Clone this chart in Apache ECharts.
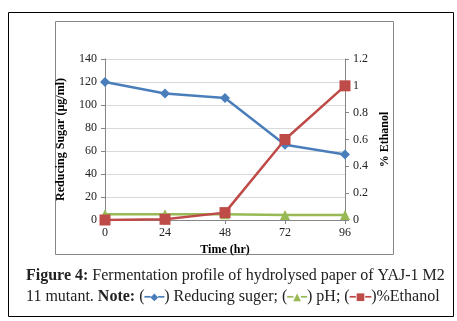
<!DOCTYPE html>
<html>
<head>
<meta charset="utf-8">
<script src="https://cdn.jsdelivr.net/npm/echarts@6/dist/echarts.min.js"></script>
<style>
  html, body { margin: 0; padding: 0; background: #fff; }
  #chart { width: 457px; height: 321px; }
</style>
</head>
<body>
<div id="chart"></div>
<script>
// time points (hr)
const hours = ['0', '24', '48', '72', '96'];
// reducing sugar (µg/ml), left axis
const sugar = [120, 110, 106, 65.5, 57];
// pH, left axis
const ph = [5.0, 5.0, 4.9, 4.4, 4.4];
// % ethanol, right axis
const ethanol = [0, 0.005, 0.055, 0.6, 1.0];

const serif = '"Liberation Serif", "DejaVu Serif", serif';
const blue = '#4a7ebb';
const green = '#98b954';
const red = '#be4b48';

let myChart = echarts.init(document.getElementById('chart'));

myChart.setOption({
  animation: false,
  textStyle: { fontFamily: serif },
  grid: { left: 105, right: 112, top: 59, bottom: 101 },
  xAxis: {
    type: 'category',
    data: hours,
    boundaryGap: false,
    name: 'Time (hr)',
    nameLocation: 'middle',
    nameGap: 20,
    nameTextStyle: { fontFamily: serif, fontWeight: 'bold', fontSize: 12, color: '#000' },
    axisLine: { lineStyle: { color: '#868686', width: 1 } },
    axisTick: { show: true, length: 4, lineStyle: { color: '#868686' } },
    axisLabel: { fontFamily: serif, fontSize: 12, color: '#222', margin: 7 },
    splitLine: { show: false }
  },
  yAxis: [
    {
      type: 'value',
      min: 0,
      max: 140,
      interval: 20,
      name: 'Reducing Sugar (µg/ml)',
      nameLocation: 'middle',
      nameRotate: 90,
      nameGap: 38,
      nameTextStyle: { fontFamily: serif, fontWeight: 'bold', fontSize: 12, color: '#000' },
      axisLine: { show: true, lineStyle: { color: '#868686', width: 1 } },
      axisTick: { show: true, length: 4, lineStyle: { color: '#868686' } },
      axisLabel: { fontFamily: serif, fontSize: 12, color: '#222', margin: 8 },
      splitLine: { lineStyle: { color: '#d9d9d9', width: 1 } }
    },
    {
      type: 'value',
      min: 0,
      max: 1.2,
      interval: 0.2,
      position: 'right',
      name: '% Ethanol',
      nameLocation: 'middle',
      nameRotate: 90,
      nameGap: 30,
      nameTextStyle: { fontFamily: serif, fontWeight: 'bold', fontSize: 12, color: '#000' },
      axisLine: { show: true, lineStyle: { color: '#868686', width: 1 } },
      axisTick: { show: true, length: 4, lineStyle: { color: '#868686' } },
      axisLabel: {
        fontFamily: serif, fontSize: 12, color: '#222', margin: 8,
        formatter: function (v) { return String(Math.round(v * 10) / 10); }
      },
      splitLine: { show: false }
    }
  ],
  series: [
    {
      name: 'Reducing suger',
      type: 'line',
      data: sugar,
      symbol: 'diamond',
      symbolSize: 10,
      lineStyle: { color: blue, width: 2.5 },
      itemStyle: { color: blue },
      z: 3
    },
    {
      name: 'pH',
      type: 'line',
      data: ph,
      symbol: 'triangle',
      symbolSize: 10,
      lineStyle: { color: green, width: 2.5 },
      itemStyle: { color: green },
      z: 2
    },
    {
      name: '%Ethanol',
      type: 'line',
      yAxisIndex: 1,
      data: ethanol,
      symbol: 'rect',
      symbolSize: 11,
      lineStyle: { color: red, width: 2.5 },
      itemStyle: { color: red },
      z: 4
    }
  ],
  graphic: [
    {
      type: 'rect',
      shape: { x: 8.5, y: 12.5, width: 445, height: 304 },
      style: { fill: null, stroke: '#000', lineWidth: 1 },
      silent: true,
      z: -10
    },
    {
      type: 'rect',
      shape: { x: 55.5, y: 21.5, width: 338, height: 233 },
      style: { fill: null, stroke: '#868686', lineWidth: 1 },
      silent: true,
      z: -10
    },
    {
      type: 'text',
      left: 26,
      top: 268,
      style: {
        text: '{b|Figure 4:} Fermentation profile of hydrolysed paper of YAJ-1 M2',
        fontFamily: serif,
        fontSize: 16,
        fill: '#222',
        rich: {
          b: { fontFamily: serif, fontSize: 16, fontWeight: 'bold', fill: '#222' }
        }
      }
    },
    {
      type: 'text',
      left: 26,
      top: 289,
      style: {
        text: '11 mutant. {b|Note:} ({bl|━◆━}) Reducing suger; ({gr|━▲━}) pH; ({rd|━■━})%Ethanol',
        fontFamily: serif,
        fontSize: 16,
        fill: '#222',
        rich: {
          b: { fontFamily: serif, fontSize: 16, fontWeight: 'bold', fill: '#222' },
          bl: { fontFamily: '"DejaVu Sans"', fontSize: 10, fill: blue },
          gr: { fontFamily: '"DejaVu Sans"', fontSize: 10, fill: green },
          rd: { fontFamily: '"DejaVu Sans"', fontSize: 10, fill: red }
        }
      }
    }
  ]
});
</script>
</body>
</html>
